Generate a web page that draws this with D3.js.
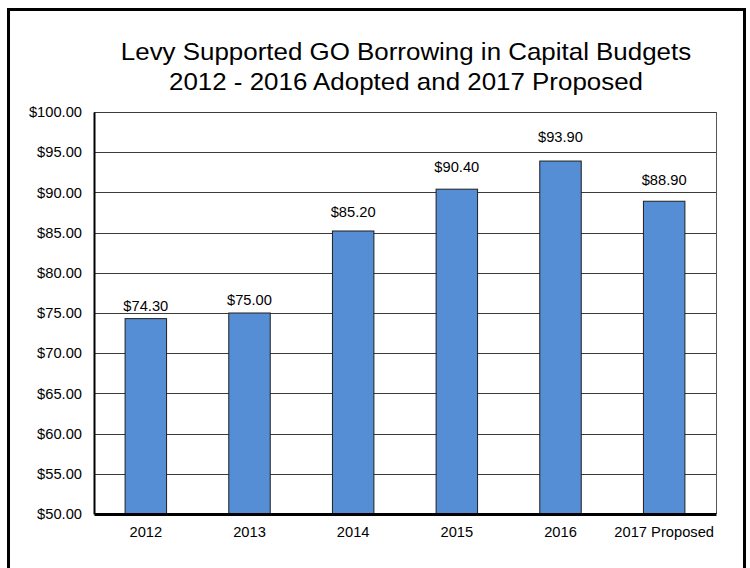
<!DOCTYPE html>
<html>
<head>
<meta charset="utf-8">
<script src="https://cdn.jsdelivr.net/npm/d3@7"></script>
<style>
  body { margin: 0; background: #fff; }
  text { font-family: "Liberation Sans", Arial, sans-serif; fill: #000; }
</style>
</head>
<body>
<div id="chart"></div>
<script>
// chart data
let categories = ["2012", "2013", "2014", "2015", "2016", "2017 Proposed"];
let values = [74.3, 75.0, 85.2, 90.4, 93.9, 88.9];
let yTicks = [50, 55, 60, 65, 70, 75, 80, 85, 90, 95, 100];
let titleLines = ["Levy Supported GO Borrowing in Capital Budgets", "2012 - 2016 Adopted and 2017 Proposed"];

let w = 750, h = 568;
let margin = {top: 112, right: 34, bottom: 54, left: 94};
let labelSize = 14.7;

let svg = d3.select("#chart").append("svg")
  .attr("width", w)
  .attr("height", h);

// outer frame
svg.append("rect")
  .attr("x", 8.5).attr("y", 9.5)
  .attr("width", 736).attr("height", 620)
  .attr("fill", "none")
  .attr("stroke", "#000")
  .attr("stroke-width", 3);

// title (the source is a bit stretched sideways)
svg.selectAll(".title").data(titleLines).enter()
  .append("text")
  .attr("class", "title")
  .attr("transform", (d, i) => "translate(406," + (60 + i * 30) + ") scale(1.08,1)")
  .attr("text-anchor", "middle")
  .attr("font-size", 24)
  .text(d => d);

let xScale = d3.scaleBand()
  .domain(categories)
  .range([margin.left, w - margin.right])
  .paddingInner(0.6)
  .paddingOuter(0.3);

let yScale = d3.scaleLinear()
  .domain([50, 100])
  .range([h - margin.bottom, margin.top]);

// gridlines
svg.append("g")
  .selectAll("line").data(yTicks.slice(1)).enter()
  .append("line")
  .attr("x1", margin.left).attr("x2", w - margin.right)
  .attr("y1", d => Math.round(yScale(d)) + 0.5)
  .attr("y2", d => Math.round(yScale(d)) + 0.5)
  .attr("stroke", "#3a3a3a")
  .attr("stroke-width", 1);

// right border of plot
svg.append("line")
  .attr("x1", w - margin.right + 0.5).attr("x2", w - margin.right + 0.5)
  .attr("y1", margin.top).attr("y2", h - margin.bottom)
  .attr("stroke", "#555");

// bars
svg.append("g")
  .selectAll("rect").data(values).enter()
  .append("rect")
  .attr("x", (d, i) => xScale(categories[i]))
  .attr("y", d => yScale(d))
  .attr("width", xScale.bandwidth())
  .attr("height", d => yScale(50) - yScale(d))
  .attr("fill", "#558ed5")
  .attr("stroke", "#1f1f1f")
  .attr("stroke-width", 1);

// value labels - in the source they sit a little higher on taller bars
svg.append("g")
  .selectAll("text").data(values).enter()
  .append("text")
  .attr("x", (d, i) => xScale(categories[i]) + xScale.bandwidth() / 2)
  .attr("y", d => yScale(d) - (8 + 0.55 * (d - 74.3)))
  .attr("text-anchor", "middle")
  .attr("font-size", labelSize)
  .text(d => "$" + d.toFixed(2));

// y axis
let yAxis = d3.axisLeft(yScale)
  .tickValues(yTicks)
  .tickSize(0)
  .tickPadding(12)
  .tickFormat(d => "$" + d.toFixed(2));

let yAxisGroup = svg.append("g")
  .attr("transform", "translate(" + margin.left + ",0)")
  .call(yAxis)
  .attr("font-size", labelSize)
  .attr("font-family", null);
yAxisGroup.select(".domain").attr("stroke", "#000").attr("stroke-width", 2);
yAxisGroup.selectAll("text").attr("fill", "#000");

// x axis
let xAxis = d3.axisBottom(xScale).tickSize(0).tickPadding(13);
let xAxisGroup = svg.append("g")
  .attr("transform", "translate(0," + (h - margin.bottom) + ")")
  .call(xAxis)
  .attr("font-size", labelSize)
  .attr("font-family", null);
xAxisGroup.select(".domain").attr("stroke", "#000").attr("stroke-width", 3);
xAxisGroup.selectAll("text").attr("fill", "#000");
</script>
</body>
</html>
